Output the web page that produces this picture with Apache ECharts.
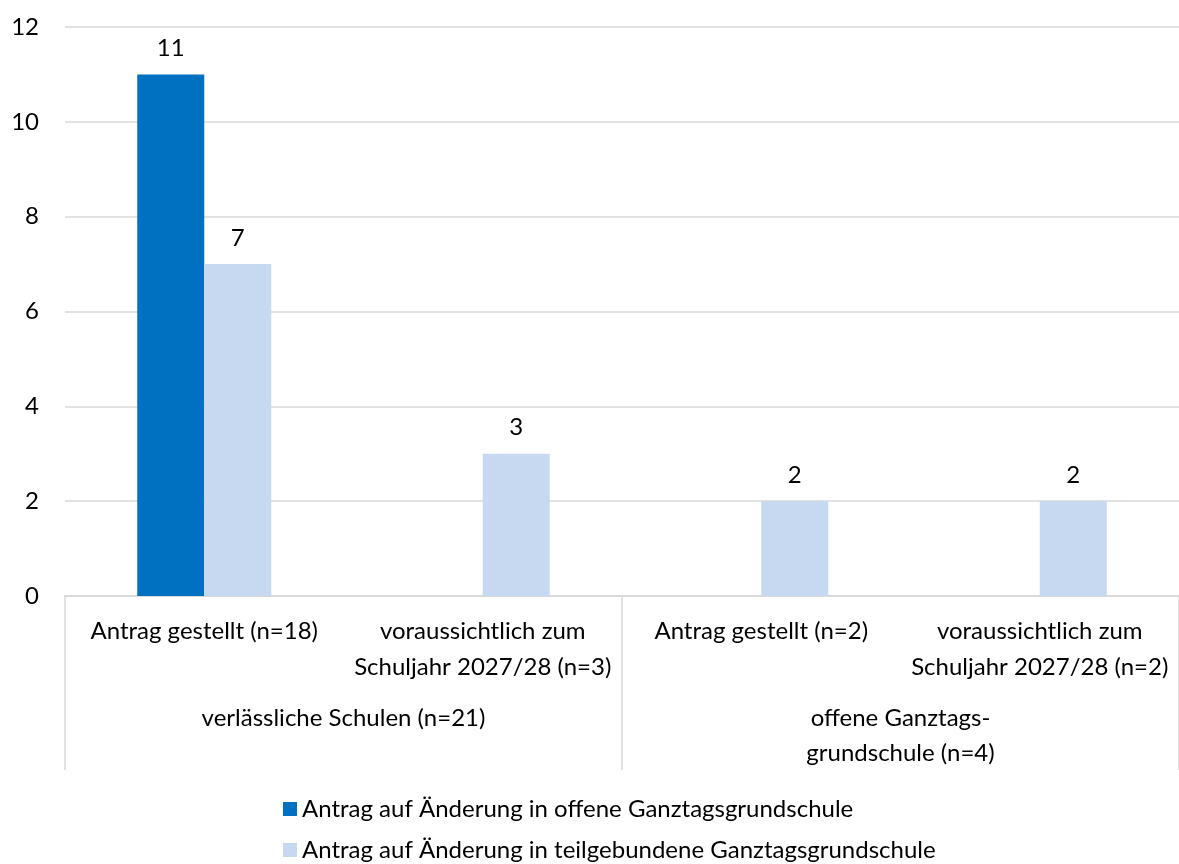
<!DOCTYPE html>
<html><head><meta charset="utf-8">
<script src="https://cdn.jsdelivr.net/npm/echarts@6/dist/echarts.min.js"></script>
<style>html,body{margin:0;padding:0;background:#fff}#c{width:1179px;height:864px}</style>
</head><body><div id="c"></div>
<script>
const categories = ['Antrag gestellt (n=18)', 'voraussichtlich zum\nSchuljahr 2027/28 (n=3)', 'Antrag gestellt (n=2)', 'voraussichtlich zum\nSchuljahr 2027/28 (n=2)'];
const groups = ['verlässliche Schulen (n=21)', 'offene Ganztags-\ngrundschule (n=4)'];
const seriesNames = ['Antrag auf Änderung in offene Ganztagsgrundschule', 'Antrag auf Änderung in teilgebundene Ganztagsgrundschule'];
const offeneValues = [11, null, null, null];
const teilgebValues = [7, 3, 2, 2];
const yTicks = [0, 2, 4, 6, 8, 10, 12];

const FONT = 'Lato';
const FS = 24;
const legendText = {fontSize: FS, fontFamily: FONT, color: '#000'};
const chart = echarts.init(document.getElementById('c'), null, {renderer: 'canvas'});
chart.setOption({
  animation: false,
  textStyle: {fontFamily: FONT, color: '#000'},
  grid: {left: 65, right: 0, top: 27, bottom: 268, containLabel: false},
  legend: [{
    orient: 'horizontal', left: 278, top: 792, itemWidth: 14, itemHeight: 14,
    icon: 'rect', textStyle: legendText, data: [seriesNames[0]], selectedMode: false
  }, {
    orient: 'horizontal', left: 278, top: 833, itemWidth: 14, itemHeight: 14,
    icon: 'rect', textStyle: legendText, data: [seriesNames[1]], selectedMode: false
  }],
  xAxis: [{
    type: 'category', data: categories, position: 'bottom',
    axisLine: {show: true, lineStyle: {color: '#d9d9d9', width: 2}},
    axisTick: {show: false},
    axisLabel: {interval: 0, fontSize: FS, fontFamily: FONT, color: '#000', lineHeight: 36, verticalAlign: 'top', margin: 17}
  }, {
    type: 'category', data: groups, position: 'bottom', gridIndex: 0,
    axisLine: {show: false},
    axisTick: {show: true, alignWithLabel: false, interval: 0, length: 174, lineStyle: {color: '#d9d9d9', width: 1.5}},
    axisLabel: {interval: 0, fontSize: FS, fontFamily: FONT, color: '#000', lineHeight: 35, verticalAlign: 'top', margin: 105}
  }],
  yAxis: {
    type: 'value', min: yTicks[0], max: yTicks[yTicks.length - 1], interval: 2,
    axisLine: {show: false}, axisTick: {show: false},
    splitLine: {lineStyle: {color: '#d9d9d9', width: 1.5}},
    axisLabel: {fontSize: FS, fontFamily: FONT, color: '#000', margin: 26}
  },
  series: [{
    name: seriesNames[0], type: 'bar', data: offeneValues, barWidth: 67, barGap: '0%',
    itemStyle: {color: '#0070C0'},
    label: {show: true, position: 'top', distance: 14, fontSize: FS, fontFamily: FONT, color: '#000'}
  }, {
    name: seriesNames[1], type: 'bar', data: teilgebValues, barWidth: 67, barGap: '0%',
    itemStyle: {color: '#C6D9F0'},
    label: {show: true, position: 'top', distance: 14, fontSize: FS, fontFamily: FONT, color: '#000'}
  }]
});
</script></body></html>
